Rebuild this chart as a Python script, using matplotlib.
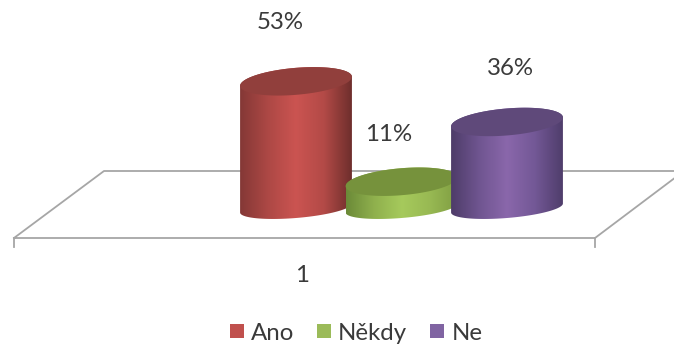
import numpy as np
import matplotlib
matplotlib.use("Agg")
import matplotlib.pyplot as plt
from matplotlib.colors import LinearSegmentedColormap
from matplotlib.patches import Patch, Polygon

categories = ["Ano", "Někdy", "Ne"]
values = [53, 11, 36]
value_labels = ["53%", "11%", "36%"]
group_label = "1"
legend_colors = ["#c0504d", "#9bbb59", "#8064a2"]
top_colors = ["#913f3c", "#76923c", "#5f497a"]
side_colors = [
    ["#843836", "#ad4845", "#cb5451", "#b34a47", "#6e2e2c"],
    ["#6b8a38", "#8fb04d", "#a6ca5c", "#98b953", "#7f9e42"],
    ["#4e3c69", "#6f5590", "#8a67ab", "#735896", "#4f3d6b"],
]

plt.rcParams["font.family"] = ["Lato", "DejaVu Sans"]
fig = plt.figure(figsize=(6.74, 3.47), dpi=100)

# floor and texts in pixel coordinates
bg = fig.add_axes([0, 0, 1, 1], zorder=1)
bg.set_xlim(0, 674)
bg.set_ylim(347, 0)
bg.axis("off")
grid = "#a6a6a6"
bg.plot([14, 104, 684, 595, 14], [238, 171, 171, 238, 238], color=grid, lw=1.3)
bg.plot([14, 14], [238, 247], color=grid, lw=1.3)
bg.plot([595, 595], [238, 247], color=grid, lw=1.3)

label_pos = [(280, 22), (389, 134), (510, 68)]
for txt, (lx, ly) in zip(value_labels, label_pos):
    bg.text(lx, ly, txt, ha="center", va="center", fontsize=17.3, color="#3a3a3a")
bg.text(302, 275, group_label, ha="center", va="center", fontsize=17.3, color="#3a3a3a")

# cylinders: x = category index, y = percent
px_x = 105.5
px_y = 2.39
ax = fig.add_axes([0, 0, 1, 1], zorder=2)
ax.patch.set_alpha(0)
ax.axis("off")
xlim = (-296 / px_x, (674 - 296) / px_x)
ylim = (-(347 - 208) / px_y, 208 / px_y)

half_w = 0.53
skew = 4.5 / px_y
half_h = 13.5 / px_y
half_h_low = 10 / px_y  # bottom rim looks flatter than the top one


def ellipse(i, v, t, h=half_h):
    x = i + half_w * np.cos(t)
    y = v + skew * np.cos(t) + h * np.sin(t)
    return np.column_stack([x, y])


for i, v in enumerate(values):
    z = 3 + i * 2
    low = ellipse(i, 0, np.linspace(np.pi, 2 * np.pi, 60), half_h_low)
    high = ellipse(i, v, np.linspace(0, np.pi, 60))
    body = Polygon(np.vstack([low, high]), closed=True, transform=ax.transData,
                   fc="none", ec="none")
    ax.add_patch(body)
    cmap = LinearSegmentedColormap.from_list("side", side_colors[i])
    grad = np.linspace(0, 1, 256).reshape(1, -1)
    im = ax.imshow(grad, cmap=cmap, aspect="auto", zorder=z,
                   extent=(i - half_w, i + half_w, -skew - half_h - 1, v + skew + half_h + 1))
    im.set_clip_path(body)
    top = Polygon(ellipse(i, v, np.linspace(0, 2 * np.pi, 120)), closed=True,
                  fc=top_colors[i], ec="none", zorder=z + 1)
    ax.add_patch(top)

ax.set_xlim(xlim)
ax.set_ylim(ylim)

handles = [Patch(fc=c, ec="none") for c in legend_colors]
bg.legend(handles, categories, loc="center", bbox_to_anchor=(356 / 674, 1 - 333 / 347),
          ncol=3, frameon=False, fontsize=17.3, handlelength=0.58, handleheight=0.58,
          handletextpad=0.3, columnspacing=0.95, labelcolor="#3a3a3a")

fig.savefig("out.png", dpi=100)
